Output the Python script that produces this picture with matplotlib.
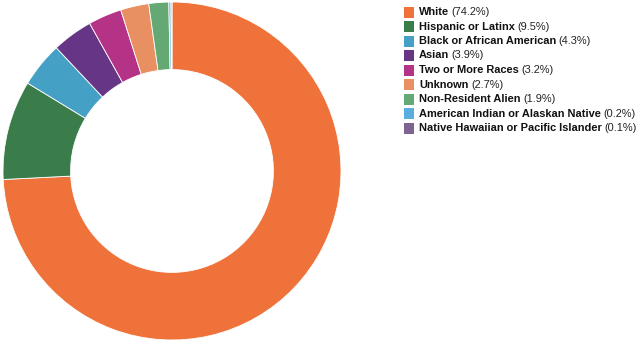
import matplotlib.pyplot as plt
from matplotlib.patches import Rectangle

# enrollment by race / ethnicity
groups = ['White', 'Hispanic or Latinx', 'Black or African American', 'Asian',
          'Two or More Races', 'Unknown', 'Non-Resident Alien',
          'American Indian or Alaskan Native', 'Native Hawaiian or Pacific Islander']
shares = [74.2, 9.5, 4.3, 3.9, 3.2, 2.7, 1.9, 0.2, 0.1]
colors = ['#ee723a', '#3a7d4a', '#45a0c5', '#663585', '#b43386',
          '#e99063', '#64a874', '#5aaede', '#7e6491']

plt.rcParams['font.family'] = ['Liberation Sans', 'DejaVu Sans']

fig = plt.figure(figsize=(6.4, 3.43), dpi=100)
W, H = 640, 343

ax = fig.add_axes([3 / W, 3 / H, 338 / W, 338 / H])
ax.pie(shares, colors=colors, startangle=90, counterclock=False,
       radius=1.0, wedgeprops=dict(width=0.4, edgecolor='white', linewidth=0.6))
ax.set_xlim(-1, 1)
ax.set_ylim(-1, 1)
ax.set_aspect('equal')
ax.axis('off')

# legend drawn by hand: bold name followed by the share in regular weight
renderer = fig.canvas.get_renderer()
y0, step = 12, 14.5
for i, (g, s, c) in enumerate(zip(groups, shares, colors)):
    yc = y0 + i * step
    fig.patches.append(Rectangle((404 / W, 1 - (yc + 5.5) / H), 10 / W, 11 / H,
                                 transform=fig.transFigure, facecolor=c,
                                 edgecolor='none'))
    t = fig.text(419 / W, 1 - yc / H, g, fontsize=7.9, fontweight='bold',
                 va='center', ha='left', color='#111111')
    bb = t.get_window_extent(renderer=renderer)
    fig.text(bb.x1 / W + 2.5 / W, 1 - yc / H, '(%.1f%%)' % s, fontsize=7.9,
             va='center', ha='left', color='#222222')

fig.savefig('out.png', dpi=100)
